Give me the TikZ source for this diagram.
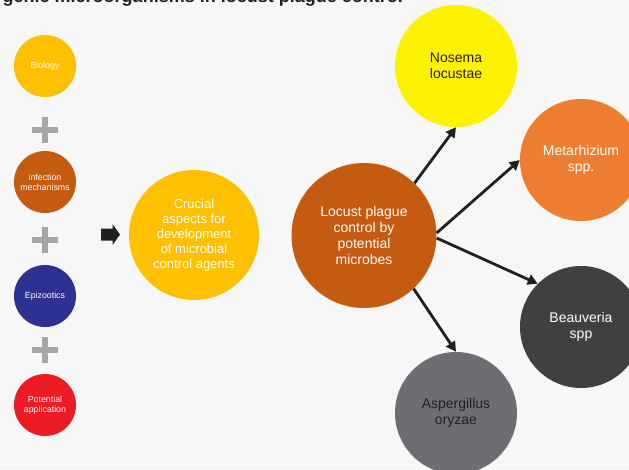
\documentclass[tikz,border=0pt]{standalone}
\usepackage{fontspec}
\setmainfont{Liberation Sans}
\usetikzlibrary{arrows.meta}
\definecolor{bgc}{RGB}{247,247,247}
\definecolor{gold}{RGB}{255,192,0}
\definecolor{rust}{RGB}{197,90,17}
\definecolor{navy}{RGB}{46,49,146}
\definecolor{redc}{RGB}{237,28,36}
\definecolor{yel}{RGB}{255,242,0}
\definecolor{orng}{RGB}{237,125,49}
\definecolor{dgray}{RGB}{64,64,64}
\definecolor{mgray}{RGB}{109,110,113}
\definecolor{ink}{RGB}{35,31,32}
\definecolor{plusc}{RGB}{166,166,166}
\tikzset{
  smallc/.style={circle, minimum size=62pt, inner sep=0pt, text=white, align=center,
    font=\fontsize{8.8}{10}\selectfont},
  bigc/.style={circle, inner sep=0pt, text=white, align=center,
    font=\fontsize{14}{16}\selectfont},
  plusline/.style={draw=plusc, line width=6.5pt},
  arr/.style={draw=ink, line width=2.8pt, -{Triangle[length=10pt,width=10.5pt]}},
}
\begin{document}
\begin{tikzpicture}[x=1pt,y=-1pt]
\useasboundingbox (0,0) rectangle (629,469);
\clip (0,0) rectangle (629,469);
\fill[bgc] (0,0) rectangle (629,469);
% title (cut off at top)
\node[anchor=base east, inner sep=0pt, text=ink, font=\bfseries\fontsize{18}{20}\selectfont] (title) at (403,2.5) {genic microorganisms in locust plague control};
% left column
\node[smallc, fill=gold] (bio) at (45,66) {Biology};
\node[smallc, fill=rust] (inf) at (45,182) {infection\\mechanisms};
\node[smallc, fill=navy] (epi) at (45,296) {Epizootics};
\node[smallc, fill=redc] (pot) at (45,405) {Potential\\application};
% plus signs
\foreach \y/\n in {130/p1,240/p2,350/p3}{
  \coordinate (\n) at (45,\y);
  \draw[plusline] ([xshift=-13pt]\n) -- ([xshift=13pt]\n);
  \draw[plusline] ([yshift=-13pt]\n) -- ([yshift=13pt]\n);
}
% block arrow
\fill[ink] (101,228.5) -- (112.5,228.5) -- (112.5,224) -- (120,234.5) -- (112.5,245) -- (112.5,240.5) -- (101,240.5) -- cycle;
% central circles
\node[bigc, fill=gold, minimum size=130pt, font=\fontsize{13}{15}\selectfont] (cru) at (194,235) {Crucial\\aspects for\\development\\of microbial\\control agents};
\node[bigc, fill=rust, minimum size=145pt] (loc) at (364,235.5) {Locust plague\\control by\\potential\\microbes};
% outer circles
\node[bigc, fill=yel, text=ink, minimum size=122pt] (nos) at (456,66) {Nosema\\locustae};
\node[bigc, fill=orng, minimum size=122pt] (met) at (581,160) {Metarhizium\\spp.};
\node[bigc, fill=dgray, minimum size=122pt] (bea) at (581,327) {Beauveria\\spp};
\node[bigc, fill=mgray, text=ink, minimum size=122pt] (asp) at (456,413) {Aspergillus\\oryzae};
% arrows
\draw[arr] (loc.46) -- (nos.south);
\draw[arr] (loc.2) -- (met.west);
\draw[arr] (loc.-2) -- (bea.135);
\draw[arr] (loc.-47) -- (asp.north);
\end{tikzpicture}
\end{document}
